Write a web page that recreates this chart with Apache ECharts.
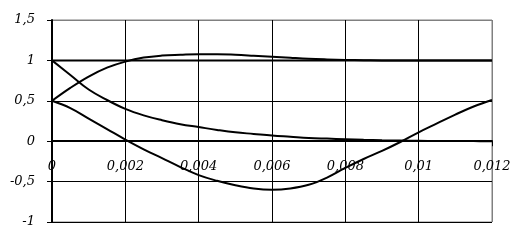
<!DOCTYPE html>
<html>
<head>
<meta charset="utf-8">
<script src="https://cdn.jsdelivr.net/npm/echarts@6/dist/echarts.min.js"></script>
<style>
html,body{margin:0;padding:0;background:#fff;}
#chart{width:521px;height:242px;}
</style>
</head>
<body>
<div id="chart"></div>
<script>
var xValues = [0,0.0005,0.001,0.0015,0.002,0.0025,0.003,0.0035,0.004,0.0045,0.005,0.0055,0.006,0.0065,0.007,0.0075,0.008,0.0085,0.009,0.0095,0.01,0.0105,0.011,0.0115,0.012];
var decay = [1.0,0.82,0.64,0.51,0.40,0.32,0.26,0.21,0.175,0.14,0.11,0.09,0.07,0.055,0.04,0.032,0.025,0.018,0.012,0.008,0.005,0.003,0.002,0.001,0.0];
var rise = [0.5,0.66,0.8,0.91,0.985,1.035,1.06,1.07,1.077,1.077,1.07,1.058,1.045,1.032,1.02,1.012,1.006,1.003,1.0,1.0,1.0,1.0,1.0,1.0,1.0];
var wave = [0.5,0.41,0.28,0.15,0.02,-0.1,-0.21,-0.32,-0.42,-0.49,-0.545,-0.585,-0.6,-0.585,-0.54,-0.45,-0.33,-0.22,-0.12,-0.01,0.11,0.22,0.33,0.43,0.51];
var unitLine = [1,1];
var unitX = [0,0.012];
var xTicks = [0,0.002,0.004,0.006,0.008,0.01,0.012];
var yTicks = [-1,-0.5,0,0.5,1,1.5];

var yMin = -1, yMax = 1.5;
var gridTop = 20, gridBottom = 20, chartH = 242;

function pairs(xs, ys){ return xs.map(function(x,i){ return [x, ys[i]]; }); }
function fmt(v){ return String(Math.round(v*1000)/1000).replace('.', ','); }

var font = {fontFamily:'DejaVu Serif', fontStyle:'italic', fontSize:13, color:'#000'};
var lineStyle = {color:'#000', width:2};

// shift the x axis up so that it sits on y = 0
var plotH = chartH - gridTop - gridBottom;
var zeroOffset = -plotH * (0 - yMin) / (yMax - yMin);

var chart = echarts.init(document.getElementById('chart'));
chart.setOption({
  animation:false,
  grid:{left:52,right:29,top:gridTop,bottom:gridBottom,show:true,borderColor:'#808080',borderWidth:1,outerBoundsMode:'none',containLabel:false},
  xAxis:{
    type:'value', min:0, max:0.012, interval:0.002, position:'bottom', offset:zeroOffset, z:5,
    axisLine:{show:true,onZero:false,lineStyle:{color:'#000',width:2}},
    axisTick:{show:true,inside:false,length:5,lineStyle:{color:'#000',width:1}},
    axisLabel:Object.assign({margin:19,formatter:fmt}, font),
    splitLine:{show:true,lineStyle:{color:['#000','#000','#000','#000','#000','#000','#808080'],width:1}}
  },
  yAxis:{
    type:'value', min:yMin, max:yMax, interval:0.5, z:5,
    axisLine:{show:true,onZero:false,lineStyle:{color:'#000',width:2}},
    axisTick:{show:true,length:5,lineStyle:{color:'#000',width:1}},
    axisLabel:Object.assign({margin:17,formatter:fmt}, font),
    splitLine:{show:true,lineStyle:{color:['#000','#000','#000','#000','#000','#808080'],width:1}}
  },
  series:[
    {type:'line',data:pairs(unitX,unitLine),showSymbol:false,lineStyle:{color:'#000',width:2}},
    {type:'line',data:pairs(xValues,decay),smooth:0.4,showSymbol:false,lineStyle:lineStyle},
    {type:'line',data:pairs(xValues,rise),smooth:0.4,showSymbol:false,lineStyle:lineStyle},
    {type:'line',data:pairs(xValues,wave),smooth:0.4,showSymbol:false,lineStyle:lineStyle}
  ]
});
</script>
</body>
</html>
